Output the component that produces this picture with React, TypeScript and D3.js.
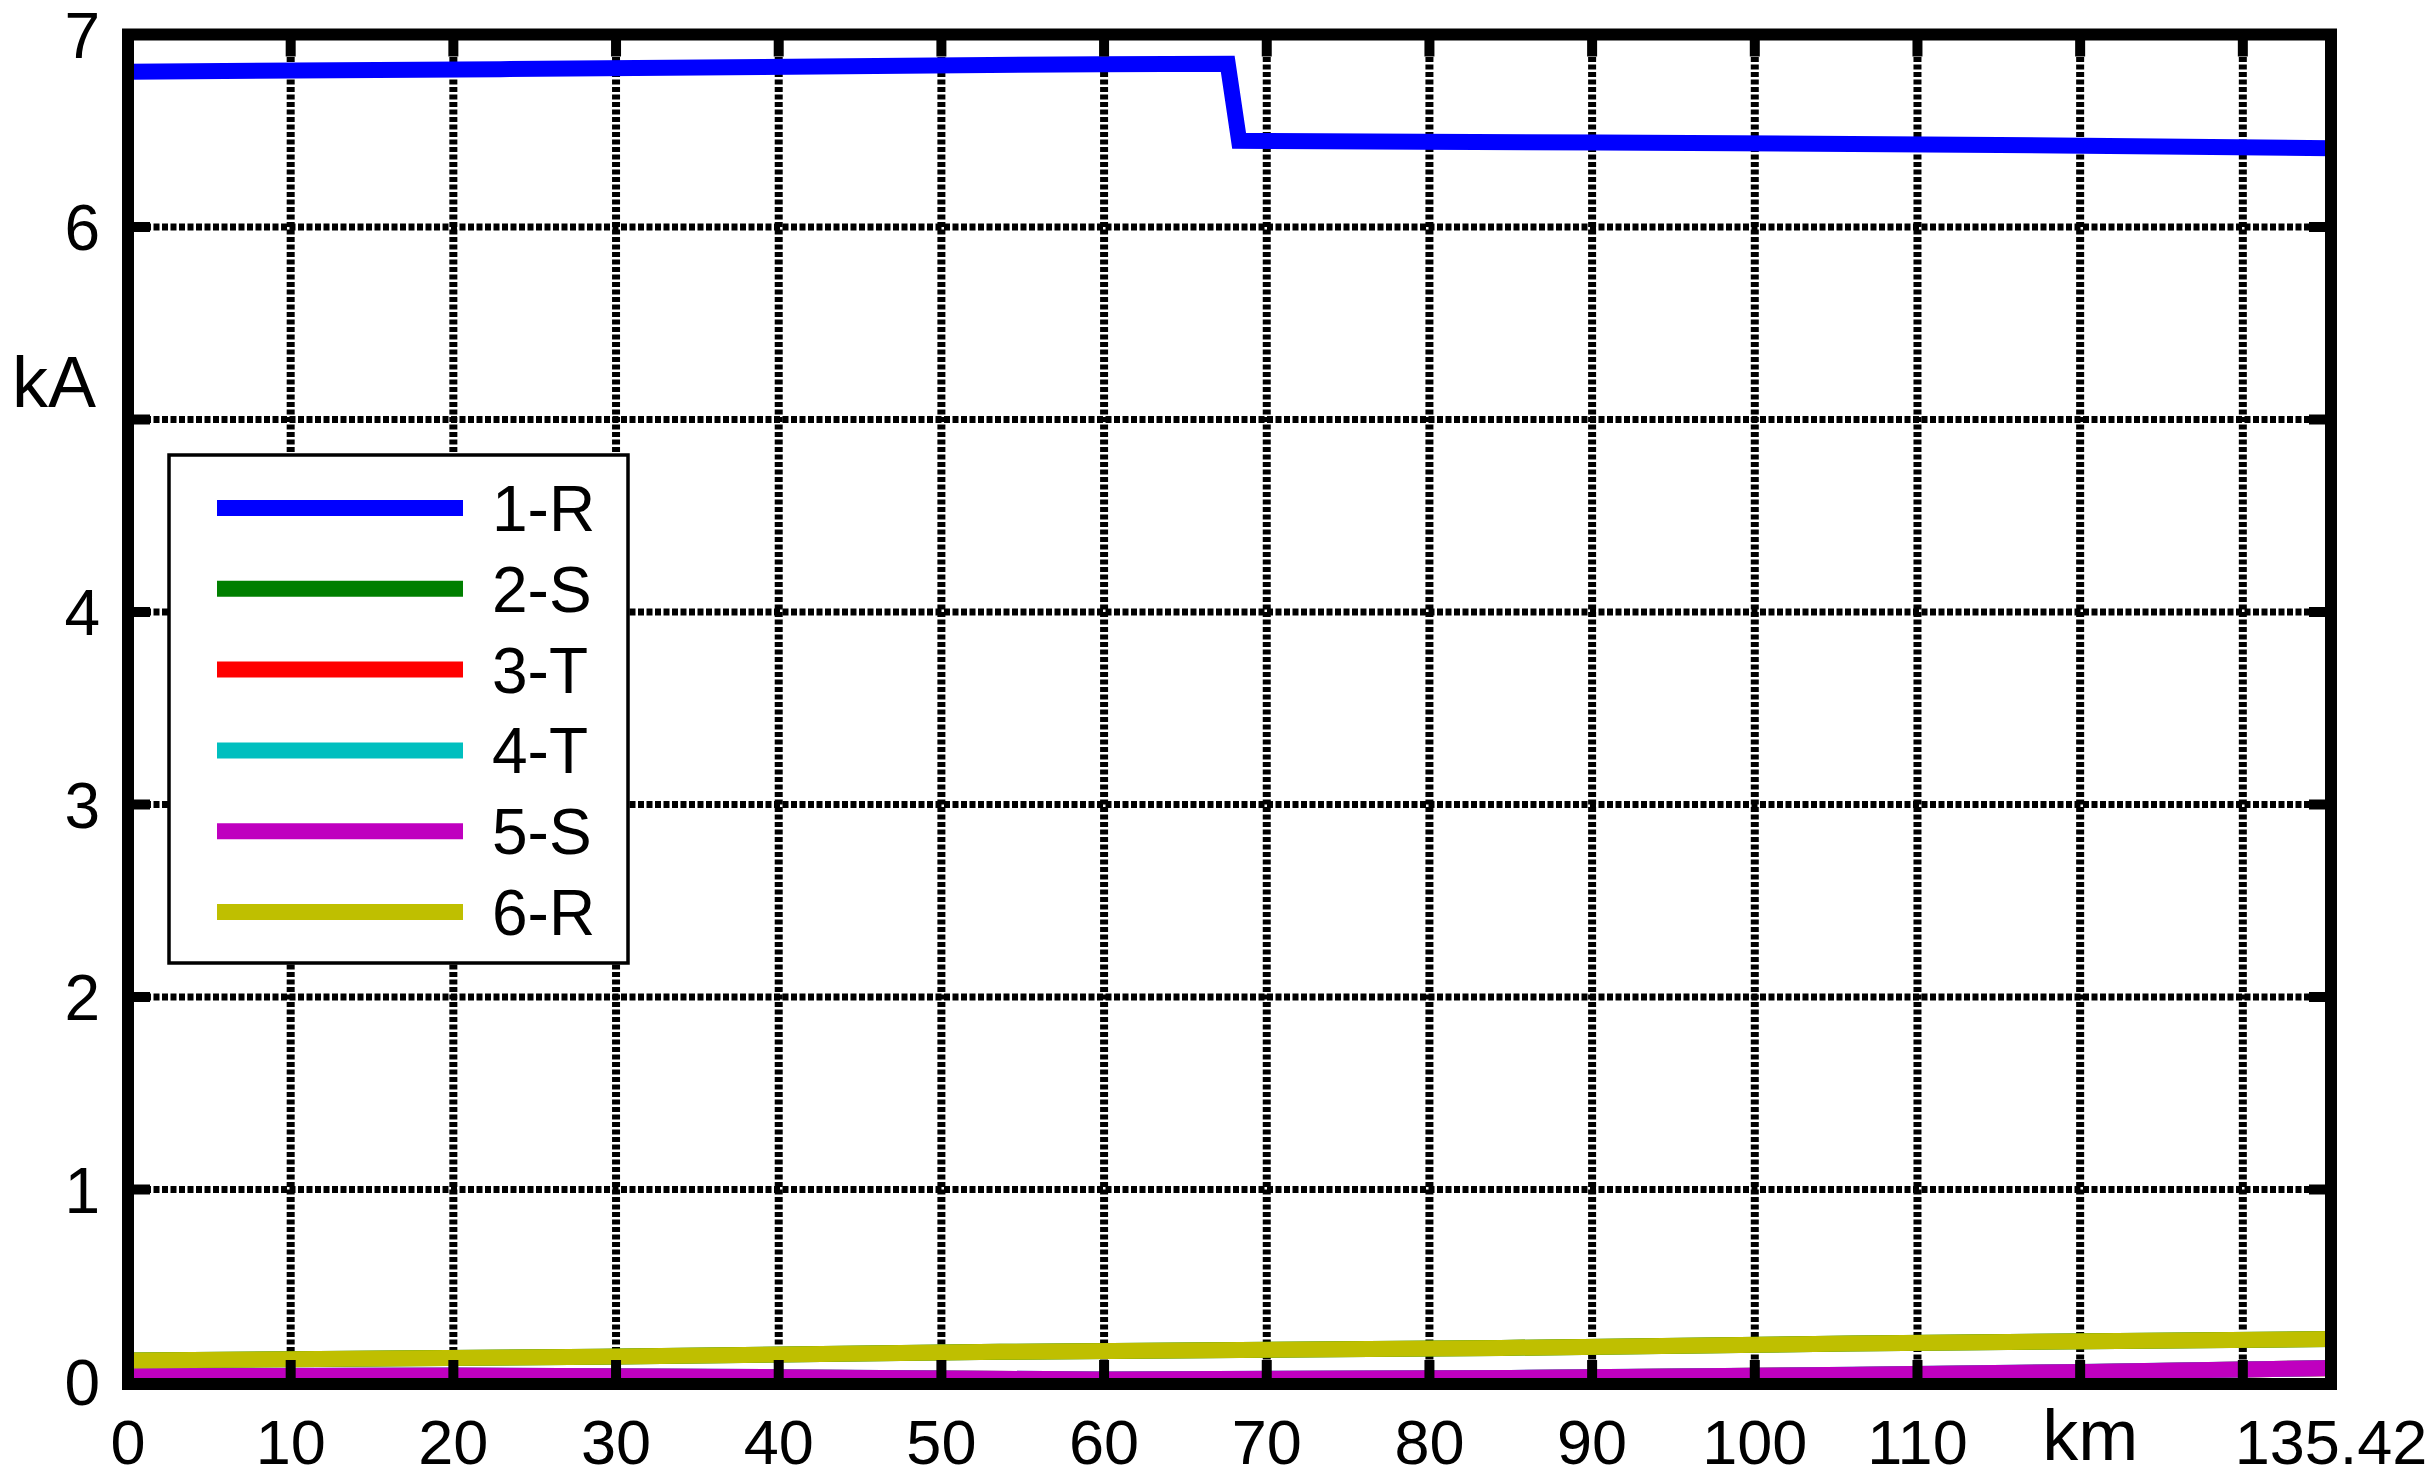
import React, { useEffect, useRef } from 'react'
import * as d3 from 'd3'

// axis ticks
const kmTicks = [0, 10, 20, 30, 40, 50, 60, 70, 80, 90, 100, 110, 120, 130]
const kmTickLabels = ['0', '10', '20', '30', '40', '50', '60', '70', '80', '90', '100', '110', '', '']
const kmEnd = 135.42
const kaTicks = [0, 1, 2, 3, 4, 5, 6, 7]
const kaTickLabels = ['0', '1', '2', '3', '4', '', '6', '7']

const seriesNames = ['1-R', '2-S', '3-T', '4-T', '5-S', '6-R']
const seriesColors = ['#0000FF', '#007F00', '#FF0000', '#00BFBF', '#BF00BF', '#BFBF00']

// (km, kA)
const km1R = [0, 22.9, 59.8, 67.6, 68.3, 90.5, 115, 135.42]
const kA1R = [6.807, 6.82, 6.846, 6.848, 6.448, 6.439, 6.426, 6.409]

// hidden under 6-R in the picture
const km2S = [0, 29, 53.6, 84.4, 105.9, 135.42]
const kA2S = [0.112, 0.131, 0.157, 0.177, 0.2, 0.223]

// hidden under 5-S in the picture
const km3T = [0, 20, 40, 60, 85, 106, 120, 135.42]
const kA3T = [0.029, 0.033, 0.024, 0.012, 0.02, 0.037, 0.051, 0.072]

const km4T = [0, 20, 40, 60, 85, 106, 120, 135.42]
const kA4T = [0.03, 0.034, 0.025, 0.013, 0.021, 0.038, 0.052, 0.073]

const km5S = [0, 20, 40, 60, 85, 106, 120, 135.42]
const kA5S = [0.03, 0.034, 0.025, 0.013, 0.021, 0.038, 0.052, 0.073]

const km6R = [0, 29, 53.6, 84.4, 105.9, 135.42]
const kA6R = [0.112, 0.131, 0.157, 0.177, 0.2, 0.223]

const seriesKm = [km1R, km2S, km3T, km4T, km5S, km6R]
const seriesKa = [kA1R, kA2S, kA3T, kA4T, kA5S, kA6R]

const FONT = "'Liberation Sans', Arial, Helvetica, sans-serif"

const makeLine = (container, x1, x2, y1, y2, width, dash = null) => {
  const line = container
    .append('line')
    .attr('x1', x1)
    .attr('x2', x2)
    .attr('y1', y1)
    .attr('y2', y2)
    .attr('stroke', '#000')
    .attr('stroke-width', width)
  if (dash) line.attr('stroke-dasharray', dash)
  return line
}

const makeText = (container, str, x, y, size, anchor = 'middle') =>
  container
    .append('text')
    .text(str)
    .attr('x', x)
    .attr('y', y)
    .attr('font-size', size)
    .attr('font-family', FONT)
    .attr('text-anchor', anchor)
    .attr('fill', '#000')

const drawChart = (node) => {
  const width = 2436
  const height = 1478

  const x = d3.scaleLinear().domain([0, kmEnd]).range([128, 2331])
  const y = d3.scaleLinear().domain([0, 7]).range([1382, 34.5])
  const [x0, x1] = x.range()
  const [y0, y1] = y.range()

  const svg = d3.select(node)
  svg.selectAll('*').remove()
  svg.attr('width', width).attr('height', height)

  svg
    .append('defs')
    .append('clipPath')
    .attr('id', 'plot-area')
    .append('rect')
    .attr('x', x0)
    .attr('y', y1)
    .attr('width', x1 - x0)
    .attr('height', y0 - y1)

  // dotted grid
  const grid = svg.append('g')
  kmTicks.filter((t) => t > 0).forEach((t) => makeLine(grid, x(t), x(t), y1, y0, 8, '5 2.5'))
  kaTicks.filter((t) => t > 0 && t < 7).forEach((t) => makeLine(grid, x0, x1, y(t), y(t), 7, '6 2.5'))

  // series
  const lineGen = d3
    .line()
    .x((d) => x(d[0]))
    .y((d) => y(d[1]))
  const lines = svg.append('g').attr('clip-path', 'url(#plot-area)')
  seriesKm.forEach((kms, i) => {
    const pts = kms.map((k, j) => [k, seriesKa[i][j]])
    lines
      .append('path')
      .attr('d', lineGen(pts))
      .attr('fill', 'none')
      .attr('stroke', seriesColors[i])
      .attr('stroke-width', 16)
      .attr('stroke-linejoin', 'miter')
  })

  // axes box + inward ticks
  const axes = svg.append('g')
  axes
    .append('rect')
    .attr('x', x0)
    .attr('y', y1)
    .attr('width', x1 - x0)
    .attr('height', y0 - y1 + 2)
    .attr('fill', 'none')
    .attr('stroke', '#000')
    .attr('stroke-width', 12)
  const tickLen = 22
  kmTicks.filter((t) => t > 0).forEach((t) => {
    makeLine(axes, x(t), x(t), y1, y1 + tickLen, 10)
    makeLine(axes, x(t), x(t), y0, y0 - tickLen, 10)
  })
  kaTicks.filter((t) => t > 0 && t < 7).forEach((t) => {
    makeLine(axes, x0, x0 + tickLen, y(t), y(t), 10)
    makeLine(axes, x1, x1 - tickLen, y(t), y(t), 10)
  })

  // tick labels
  const labels = svg.append('g')
  kmTicks.forEach((t, i) => {
    if (kmTickLabels[i]) makeText(labels, kmTickLabels[i], x(t), 1464, 63)
  })
  makeText(labels, '135.42', x(kmEnd), 1464, 63)
  makeText(labels, 'km', x(120) + 10, 1460, 72)
  kaTicks.forEach((t, i) => {
    if (kaTickLabels[i]) makeText(labels, kaTickLabels[i], 100, y(t) + 23, 64, 'end')
  })
  makeText(labels, 'kA', 96, 407, 72, 'end')

  // legend
  const legend = svg.append('g')
  legend
    .append('rect')
    .attr('x', 169)
    .attr('y', 455)
    .attr('width', 459)
    .attr('height', 508)
    .attr('fill', '#fff')
    .attr('stroke', '#000')
    .attr('stroke-width', 3.5)
  seriesNames.forEach((name, i) => {
    const ly = 508 + i * 80.8
    legend
      .append('line')
      .attr('x1', 217)
      .attr('x2', 463)
      .attr('y1', ly)
      .attr('y2', ly)
      .attr('stroke', seriesColors[i])
      .attr('stroke-width', 16)
    makeText(legend, name, 492, ly + 23, 64, 'start')
  })
}

const App = () => {
  const ref = useRef(null)

  useEffect(() => {
    if (ref.current) drawChart(ref.current)
  }, [])

  return (
    <div style={{ position: 'absolute', left: 0, top: 0, background: '#fff' }}>
      <svg ref={ref} style={{ display: 'block' }}></svg>
    </div>
  )
}

export default App
